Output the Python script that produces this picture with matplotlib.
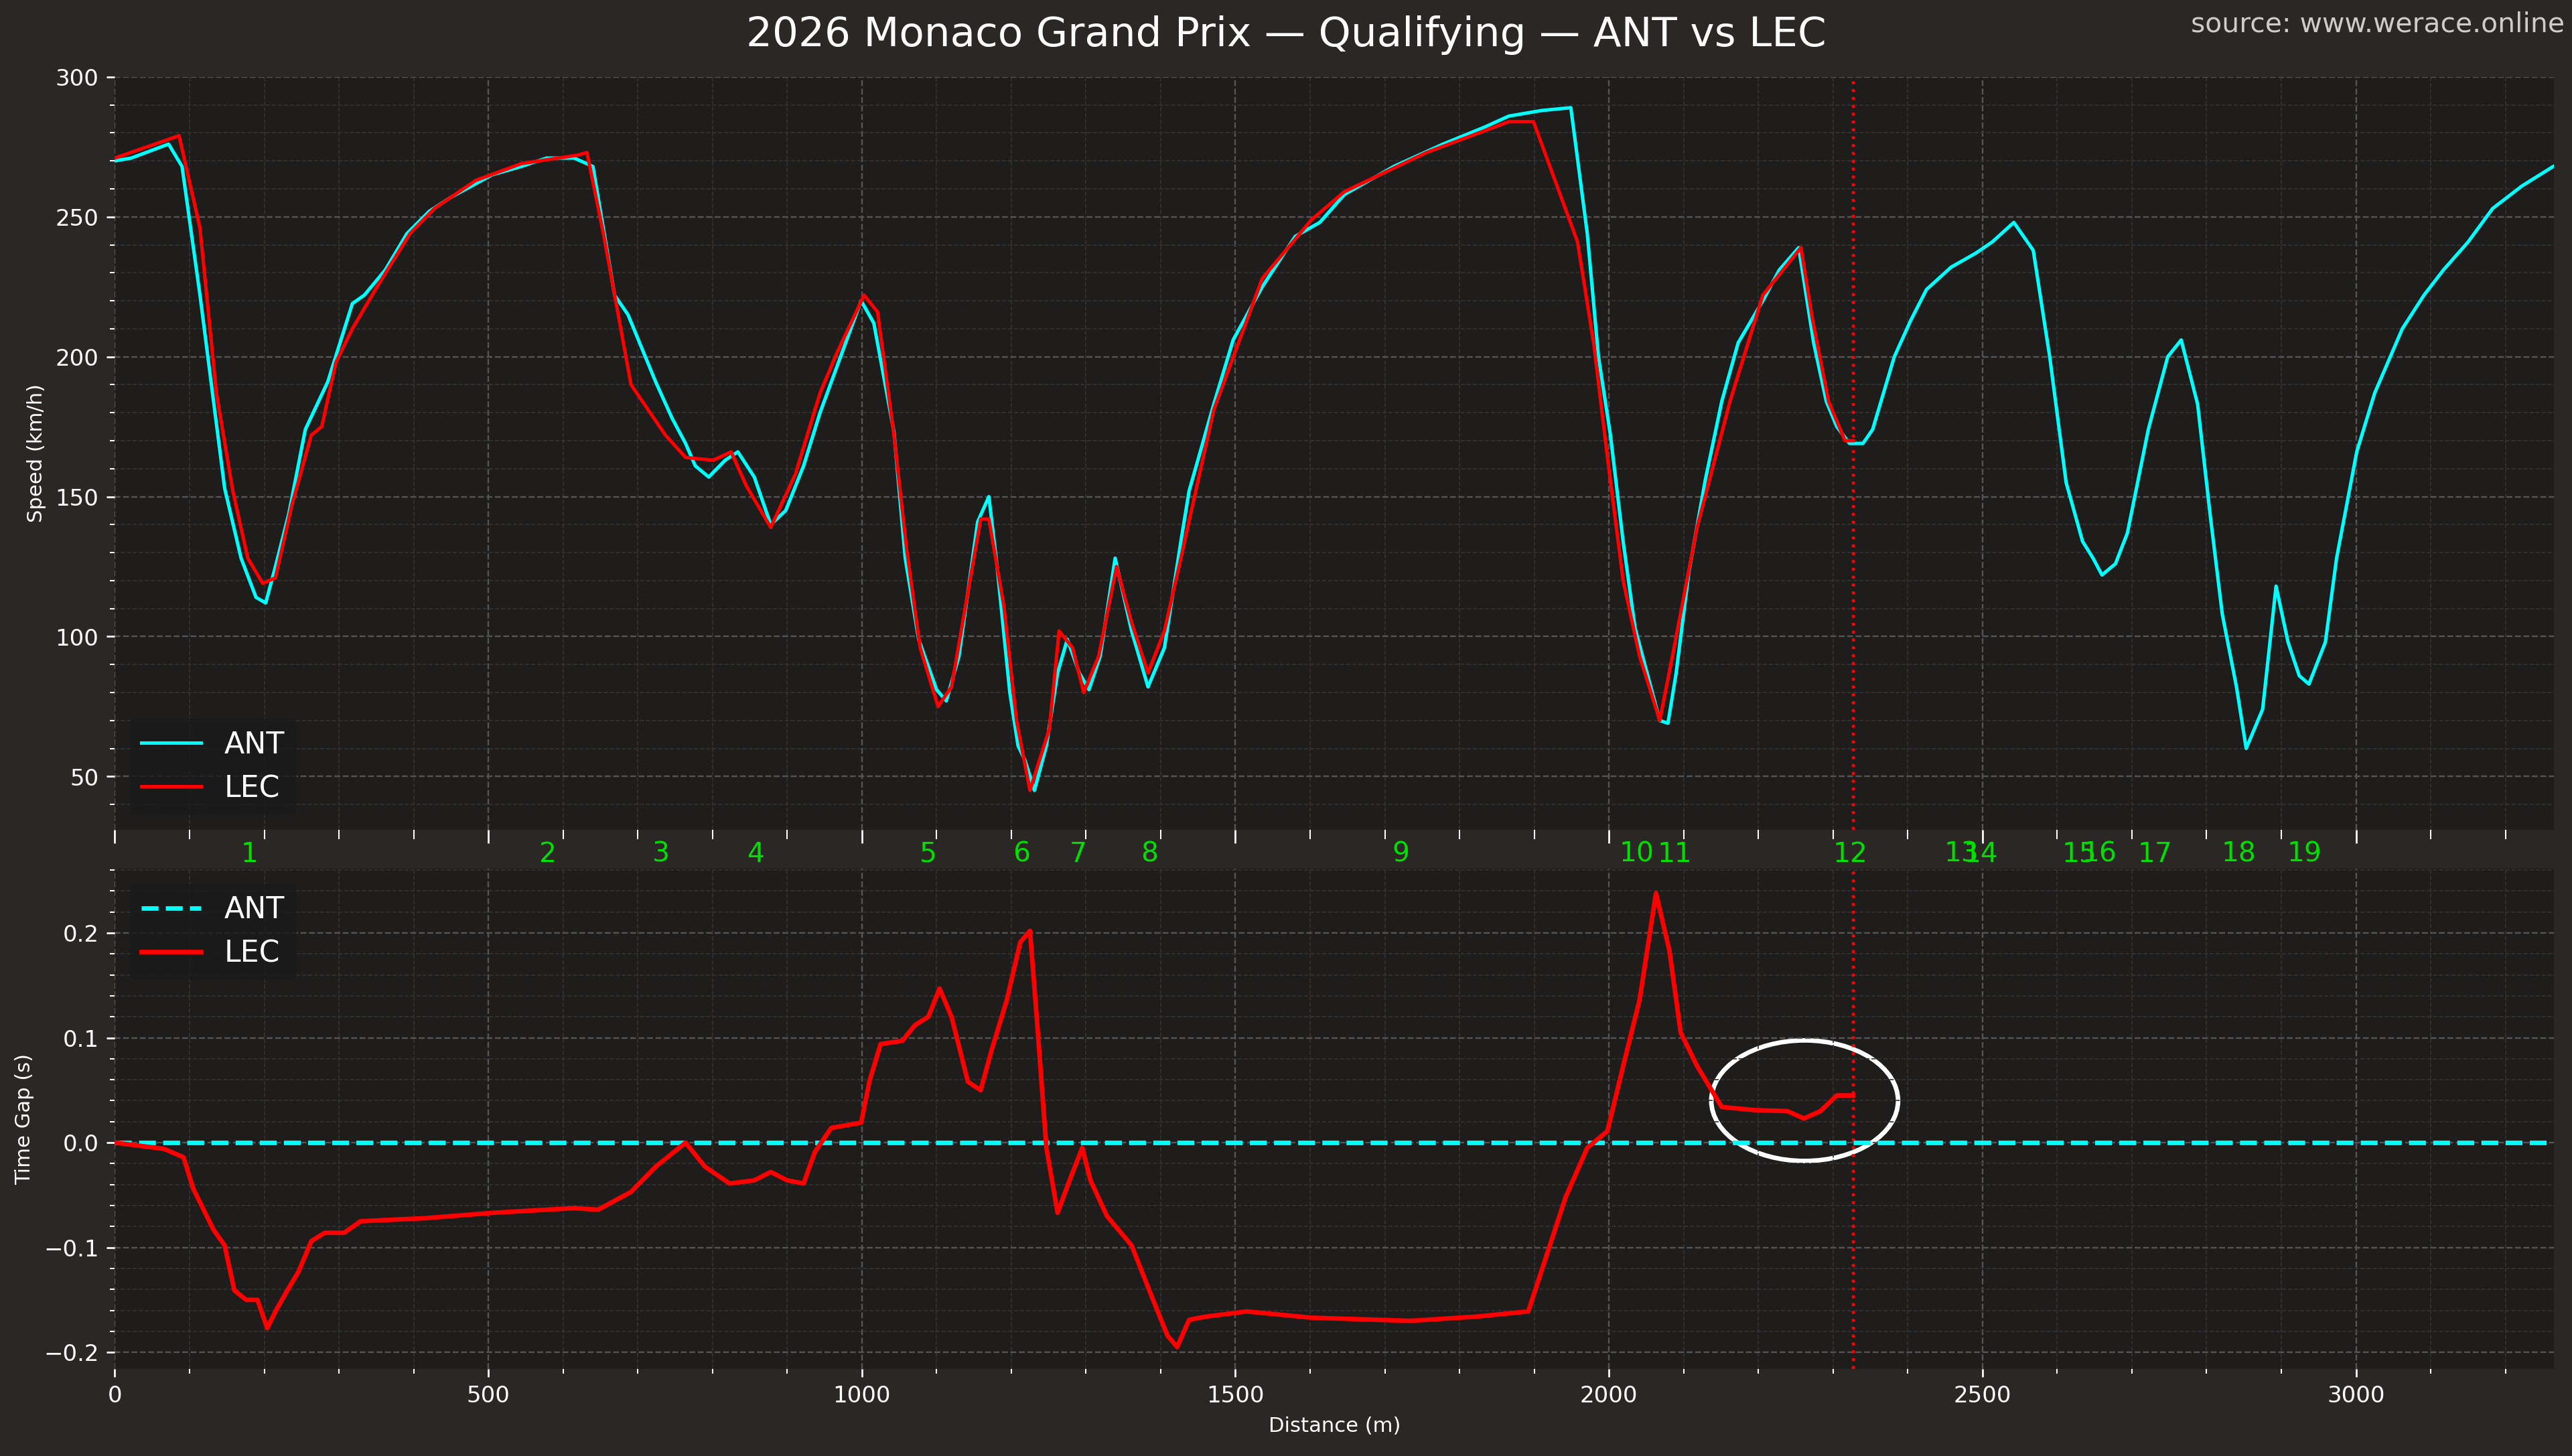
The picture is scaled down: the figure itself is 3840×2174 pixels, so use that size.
import matplotlib
matplotlib.use("Agg")
import matplotlib.pyplot as plt
import matplotlib.transforms as mtrans
from matplotlib.patches import Ellipse
from matplotlib.ticker import MultipleLocator

ant_dist = [0,22,72,90,114,147,169,189,202,215,233,255,285,318,334,362,391,421,450,505,544,578,615,640,669,687,724,746,764,777,795,817,834,856,878,898,922,944,977,999,1016,1043,1058,1076,1100,1113,1130,1155,1170,1181,1198,1209,1218,1231,1247,1262,1275,1291,1304,1319,1339,1361,1383,1405,1427,1438,1471,1497,1536,1580,1613,1646,1712,1778,1833,1866,1910,1949,1971,1986,2002,2019,2035,2052,2068,2079,2090,2107,2129,2151,2173,2206,2228,2254,2274,2291,2305,2322,2340,2353,2382,2404,2425,2458,2491,2513,2542,2568,2590,2612,2634,2648,2660,2678,2694,2722,2748,2766,2788,2805,2821,2840,2853,2875,2893,2909,2924,2937,2959,2974,3001,3025,3062,3091,3117,3150,3183,3222,3264]
ant_speed = [270,271,276,268,222,153,128,114,112,125,144,174,191,219,222,231,244,252,257,265,268,271,271,268,222,215,191,178,169,161,157,163,166,157,140,145,161,180,204,220,212,173,128,99,81,77,93,141,150,125,80,61,56,45,61,87,99,87,81,93,128,102,82,96,134,152,183,206,225,243,248,258,268,276,282,286,288,289,244,200,172,134,103,86,70,69,87,123,156,184,205,220,231,239,205,184,175,169,169,174,200,213,224,232,237,241,248,238,200,155,134,128,122,126,137,174,200,206,183,143,108,82,60,74,118,98,86,83,98,128,166,187,210,222,231,241,253,261,268]

lec_dist = [0,86,114,136,158,178,198,215,237,263,277,296,318,351,395,428,483,544,593,619,632,654,691,737,764,801,825,845,878,911,944,966,1003,1021,1043,1060,1078,1102,1120,1159,1170,1190,1207,1225,1251,1264,1282,1297,1317,1341,1361,1383,1405,1427,1471,1536,1602,1646,1756,1866,1899,1958,1980,1998,2019,2041,2068,2085,2118,2162,2206,2257,2272,2294,2316,2327]
lec_speed = [271,279,246,187,152,128,119,121,147,172,175,198,210,225,244,253,263,269,271,272,273,244,190,172,164,163,166,154,139,158,187,201,222,216,172,131,96,75,82,142,142,111,70,45,67,102,96,80,93,125,105,87,102,128,181,228,249,259,273,284,284,241,204,164,120,93,70,93,139,184,222,239,214,184,170,170]

gap_dist = [0,66,92,105,132,147,160,176,191,204,215,230,246,263,281,307,329,417,505,615,647,691,724,764,790,823,856,878,900,922,937,959,999,1010,1025,1054,1071,1089,1104,1120,1142,1159,1174,1194,1212,1225,1234,1247,1262,1278,1295,1306,1328,1361,1387,1409,1422,1438,1460,1515,1602,1734,1822,1892,1942,1971,1998,2019,2041,2063,2081,2096,2118,2151,2195,2239,2261,2283,2305,2327]
gap_lec = [0,-0.006,-0.014,-0.044,-0.083,-0.098,-0.141,-0.150,-0.150,-0.177,-0.161,-0.142,-0.123,-0.094,-0.086,-0.086,-0.075,-0.072,-0.067,-0.0625,-0.064,-0.047,-0.023,0,-0.023,-0.039,-0.036,-0.028,-0.036,-0.039,-0.009,0.014,0.019,0.058,0.094,0.097,0.112,0.120,0.147,0.120,0.058,0.050,0.089,0.136,0.191,0.202,0.120,-0.005,-0.067,-0.036,-0.005,-0.036,-0.070,-0.098,-0.145,-0.184,-0.195,-0.169,-0.166,-0.161,-0.167,-0.170,-0.166,-0.161,-0.052,-0.005,0.011,0.073,0.136,0.238,0.183,0.105,0.073,0.034,0.031,0.030,0.023,0.030,0.045,0.045]

corner_labels = [str(i) for i in range(1, 20)]
corner_dist = [180,580,731,858,1089,1214,1289,1385,1721,2037,2088,2323,2472,2498,2630,2657,2731,2843,2931]
marker_dist = 2327

FIG_BG = "#2a2725"; AX_BG = "#1e1d1c"; CYAN = "#00ffff"; RED = "#ff0000"
fig = plt.figure(figsize=(15.68, 8.878), dpi=244.9, facecolor=FIG_BG)
ax1 = fig.add_axes([70/1568, 1-506/888, 1487/1568, 459/888])
ax2 = fig.add_axes([70/1568, 1-835/888, 1487/1568, 305/888])
xmax = 3265
for ax in (ax1, ax2):
    ax.set_facecolor(AX_BG)
    ax.set_xlim(0, xmax)
    ax.xaxis.set_major_locator(MultipleLocator(500))
    ax.xaxis.set_minor_locator(MultipleLocator(100))
    ax.grid(True, which="major", color="#555555", ls="--", lw=0.7)
    ax.grid(True, which="minor", color="#333333", ls="--", lw=0.5)
    ax.tick_params(colors="white", labelsize=10, which="both")
    for s in ax.spines.values():
        s.set_visible(False)
    ax.axvline(marker_dist, color=RED, ls=":", lw=1.3)

ax1.plot(ant_dist, ant_speed, color=CYAN, lw=1.5, label="ANT")
ax1.plot(lec_dist, lec_speed, color=RED, lw=1.5, label="LEC")
ax1.set_ylim(31, 300)
ax1.yaxis.set_major_locator(MultipleLocator(50))
ax1.yaxis.set_minor_locator(MultipleLocator(10))
ax1.set_ylabel("Speed (km/h)", color="white", fontsize=9)
ax1.tick_params(axis="x", labelbottom=False, length=6)
ax1.tick_params(axis="x", which="minor", length=4)
ax1.legend(loc="lower left", fontsize=13, facecolor="#1a1a1a", edgecolor="none", labelcolor="white")

tr = mtrans.blended_transform_factory(ax1.transData, fig.transFigure)
for lbl, d in zip(corner_labels, corner_dist):
    fig.text(d, 1-521/888, lbl, transform=tr, color="#00e000",
             fontsize=12, ha="center", va="center")

ax2.axhline(0, color=CYAN, ls="--", lw=2, label="ANT")
ax2.plot(gap_dist, gap_lec, color=RED, lw=2, label="LEC")
ax2.set_ylim(-0.216, 0.261)
ax2.yaxis.set_major_locator(MultipleLocator(0.1))
ax2.yaxis.set_minor_locator(MultipleLocator(0.02))
ax2.set_ylabel("Time Gap (s)", color="white", fontsize=9)
ax2.set_xlabel("Distance (m)", color="white", fontsize=9)
ax2.legend(loc="upper left", fontsize=13, facecolor="#1a1a1a", edgecolor="none", labelcolor="white")
ax2.add_patch(Ellipse((2262, 0.04), 250, 0.115, fill=False, edgecolor="white", lw=2))

fig.text(0.5, 0.976, "2026 Monaco Grand Prix — Qualifying — ANT vs LEC", color="white",
         fontsize=18, ha="center", va="center")
fig.text(0.997, 0.983, "source: www.werace.online", color="#cccccc", fontsize=12, ha="right", va="center")
fig.savefig("out.png", facecolor=FIG_BG)
